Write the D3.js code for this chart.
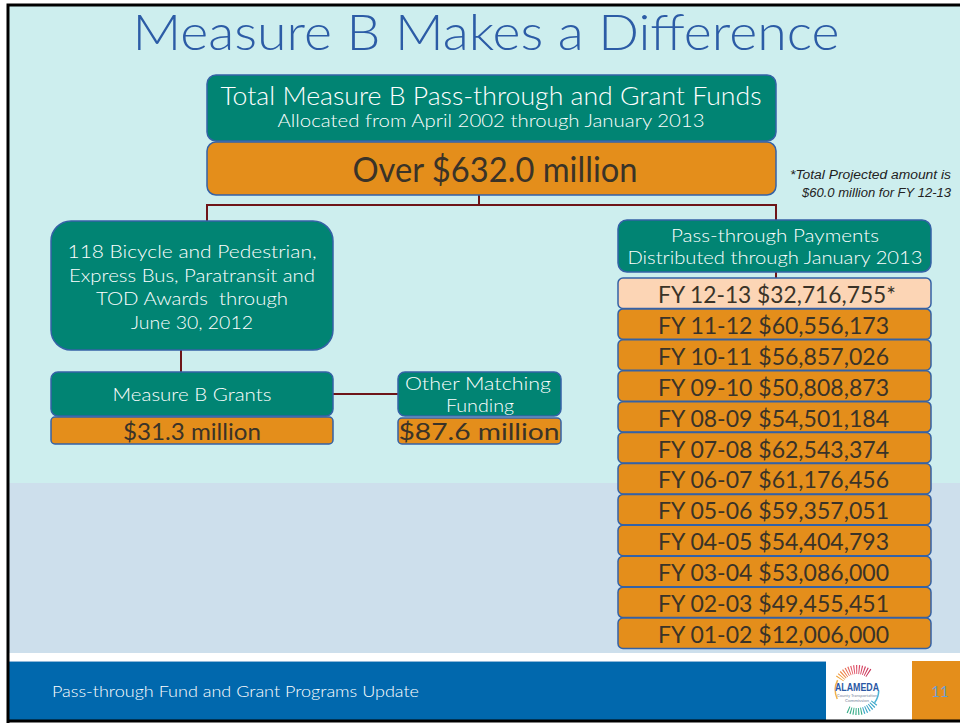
<!DOCTYPE html>
<html>
<head>
<meta charset="utf-8">
<script src="https://cdn.jsdelivr.net/npm/d3@7"></script>
<style>
  body { margin: 0; background: #fff; }
  svg { display: block; }
</style>
</head>
<body>
<div id="slide"></div>
<script>
// values
const fiscalYears = ['FY 12-13', 'FY 11-12', 'FY 10-11', 'FY 09-10', 'FY 08-09', 'FY 07-08',
  'FY 06-07', 'FY 05-06', 'FY 04-05', 'FY 03-04', 'FY 02-03', 'FY 01-02']
const payments = [32716755, 60556173, 56857026, 50808873, 54501184, 62543374,
  61176456, 59357051, 54404793, 53086000, 49455451, 12006000]
const projectedYears = ['FY 12-13']
const totalFunds = 632.0
const grantFunds = 31.3
const matchingFunds = 87.6
const awardCount = 118
const projectedTotal = 60.0

let width = 960, height = 723

let teal = '#018473', orange = '#e48e1b', peach = '#fcd5b5', edge = '#3462a6'
let ink = '#3a3328', wire = '#6e1518'
let font = 'Lato, "Open Sans", sans-serif'

let svg = d3.select('#slide').append('svg')
  .attr('width', width).attr('height', height)

// background bands
svg.append('rect').attr('x', 8).attr('y', 5).attr('width', 960).attr('height', 478).attr('fill', '#cdeeee')
svg.append('rect').attr('x', 8).attr('y', 483).attr('width', 960).attr('height', 170).attr('fill', '#cddfec')
svg.append('rect').attr('x', 8).attr('y', 653).attr('width', 960).attr('height', 8).attr('fill', '#ffffff')
svg.append('rect').attr('x', 8).attr('y', 661).attr('width', 818).attr('height', 59).attr('fill', '#0168ad')
svg.append('line').attr('x1', 8).attr('x2', 826).attr('y1', 661.5).attr('y2', 661.5).attr('stroke', '#8fb8da').attr('stroke-width', 1)
svg.append('rect').attr('x', 912).attr('y', 661).attr('width', 60).attr('height', 59).attr('fill', orange)
// black frame
svg.append('path').attr('d', 'M 8 723 L 8 5 L 970 5').attr('fill', 'none').attr('stroke', '#000').attr('stroke-width', 3)
svg.append('line').attr('x1', 8).attr('x2', 960).attr('y1', 721).attr('y2', 721).attr('stroke', '#000').attr('stroke-width', 3)

// text helper: centered text squeezed to a measured width
function label (g, str, cx, y, size, len, opts) {
  opts = opts || {}
  let t = g.append('text')
    .attr('x', cx).attr('y', y)
    .attr('text-anchor', opts.anchor || 'middle')
    .style('font-family', opts.family || font)
    .style('font-size', size + 'px')
    .style('font-weight', opts.weight || 300)
    .style('fill', opts.fill || '#fff')
    .text(str)
  if (opts.italic) t.style('font-style', 'italic')
  if (len) t.attr('textLength', len).attr('lengthAdjust', 'spacingAndGlyphs')
  return t
}

function box (x0, y0, x1, y1, fill, r) {
  return svg.append('rect')
    .attr('x', x0).attr('y', y0)
    .attr('width', x1 - x0).attr('height', y1 - y0)
    .attr('rx', r).attr('ry', r)
    .attr('fill', fill)
    .attr('stroke', edge).attr('stroke-width', 1.5)
}

// title
label(svg, 'Measure B Makes a Difference', 486, 50, 49, 707, { fill: '#2c5ca6' })

// connectors (drawn first so boxes sit on top)
let wires = svg.append('g').attr('stroke', wire).attr('stroke-width', 2).attr('fill', 'none')
wires.append('path').attr('d', 'M 479 195 L 479 205 M 207 205 L 776 205 M 207 204 L 207 222 M 776 204 L 776 280')
wires.append('path').attr('d', 'M 181 349 L 181 372 M 333 394 L 398 394')

// total box
box(207, 75, 776, 141, teal, 9)
label(svg, 'Total Measure B Pass-through and Grant Funds', 491, 105, 25, 541)
label(svg, 'Allocated from April 2002 through January 2013', 491, 127, 17.5, 427)
box(207, 142, 776, 195, orange, 9)
label(svg, 'Over ' + d3.format('$.1f')(totalFunds) + ' million', 495, 182, 34, 285, { fill: ink, weight: 400 })

label(svg, '*Total Projected amount is', 951, 179, 12, 161, { anchor: 'end', italic: true, weight: 400, fill: '#222', family: '"Liberation Sans", Arial, sans-serif' })
label(svg, d3.format('$.1f')(projectedTotal) + ' million for FY 12-13', 951, 197, 12, 149, { anchor: 'end', italic: true, weight: 400, fill: '#222', family: '"Liberation Sans", Arial, sans-serif' })

// grants branch
box(51, 221, 333, 350, teal, 20)
let awardLines = [awardCount + ' Bicycle and Pedestrian,', 'Express Bus, Paratransit and', 'TOD Awards  through', 'June 30, 2012']
let awardWidths = [249, 246, 192, 122]
awardLines.forEach(function (s, i) {
  label(svg, s, 192, 258 + i * 23.5, 18.5, awardWidths[i]).attr('xml:space', 'preserve')
})

box(51, 372, 333, 416, teal, 7)
label(svg, 'Measure B Grants', 192, 401, 18.5, 159)
box(51, 417, 333, 444, orange, 4)
label(svg, d3.format('$.1f')(grantFunds) + ' million', 192, 440, 24, 138, { fill: ink, weight: 400 })

box(398, 372, 561, 416, teal, 7)
label(svg, 'Other Matching', 478, 390, 18.5, 146)
label(svg, 'Funding', 480, 412, 18.5, 68)
box(398, 418, 561, 444, orange, 4)
label(svg, d3.format('$.1f')(matchingFunds) + ' million', 479, 440, 24, 161, { fill: ink, weight: 400 })

// pass-through branch
box(618, 220, 931, 272, teal, 9)
label(svg, 'Pass-through Payments', 775, 242, 18.5, 208)
label(svg, 'Distributed through January 2013', 775, 264, 18.5, 295)

let yRow = d3.scaleBand().domain(fiscalYears).range([278, 649]).paddingInner(0)
let fmtMoney = d3.format('$,')

let rows = svg.selectAll('.pay-row')
  .data(fiscalYears.map(function (fy, i) { return { fy: fy, value: payments[i], projected: projectedYears.includes(fy) } }))
  .enter().append('g').attr('class', 'pay-row')

rows.append('rect')
  .attr('x', 618).attr('width', 313)
  .attr('y', function (d) { return yRow(d.fy) })
  .attr('height', yRow.bandwidth() - 0.5)
  .attr('rx', 5).attr('ry', 5)
  .attr('fill', function (d) { return d.projected ? peach : orange })
  .attr('stroke', edge).attr('stroke-width', 1.5)

// projected year carries a star, kept in the same text
rows.append('text')
  .attr('x', 658)
  .attr('y', function (d) { return yRow(d.fy) + yRow.bandwidth() - 6 })
  .attr('textLength', function (d) { return d.projected ? 238 : 231 })
  .attr('lengthAdjust', 'spacingAndGlyphs')
  .style('font-family', font)
  .style('font-size', '24px')
  .style('font-weight', 400)
  .style('fill', ink)
  .text(function (d) { return d.fy + ' ' + fmtMoney(d.value) + (d.projected ? '*' : '') })

// footer
label(svg, 'Pass-through Fund and Grant Programs Update', 52, 697, 16, 367, { anchor: 'start' })
label(svg, '11', 940, 697, 15, null, { fill: '#6c9fd2', weight: 400 })

// little agency logo
let logo = svg.append('g').attr('transform', 'translate(857,690)')
let rayArc = d3.arc().innerRadius(16).outerRadius(25)
let rayColors = d3.scaleLinear().domain([0, 0.5, 1]).range(['#f2a53a', '#e2546a', '#c9375c'])
d3.range(14).forEach(function (i) {
  let a = -1.0 + i * 0.12
  logo.append('path')
    .attr('d', rayArc({ startAngle: a, endAngle: a + 0.05 }))
    .attr('fill', rayColors(i / 13))
})
let lowArc = d3.arc().innerRadius(18).outerRadius(25)
d3.range(12).forEach(function (i) {
  let a = 2.2 + i * 0.12
  logo.append('path')
    .attr('d', lowArc({ startAngle: a, endAngle: a + 0.05 }))
    .attr('fill', i < 6 ? '#3aa6c8' : '#3cae8a')
})
logo.append('path')
  .attr('d', d3.arc().innerRadius(21).outerRadius(22.5)({ startAngle: -2.0, endAngle: -1.1 }))
  .attr('fill', '#f0b44a')
logo.append('path')
  .attr('d', d3.arc().innerRadius(21).outerRadius(22.5)({ startAngle: 1.6, endAngle: 2.2 }))
  .attr('fill', '#4bb3d4')
label(logo, 'ALAMEDA', 0, 1, 10, 44, { fill: '#2a58a4', weight: 'bold', family: '"Liberation Sans", Arial, sans-serif' })
label(logo, 'County Transportation', 0, 7, 4, 40, { fill: '#7d8aa0', weight: 400 })
label(logo, 'Commission', 0, 12, 4, 24, { fill: '#7d8aa0', weight: 400 })
</script>
</body>
</html>
